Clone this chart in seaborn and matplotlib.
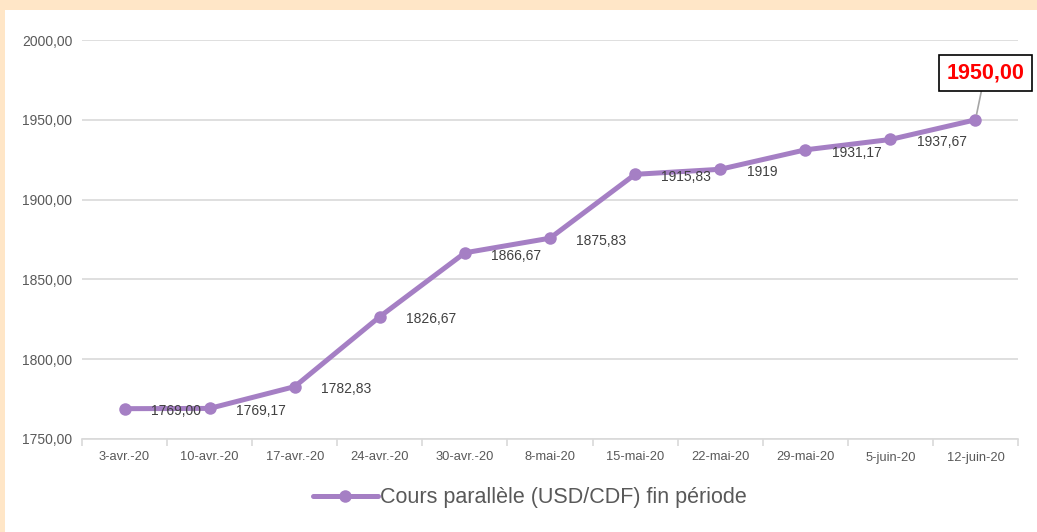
import matplotlib
matplotlib.use("Agg")
import matplotlib.pyplot as plt
import matplotlib.patches as mpatches
from matplotlib.ticker import FuncFormatter, FixedLocator
import seaborn as sns
import pandas as pd

dates = ["3-avr.-20", "10-avr.-20", "17-avr.-20", "24-avr.-20", "30-avr.-20", "8-mai-20",
         "15-mai-20", "22-mai-20", "29-mai-20", "5-juin-20", "12-juin-20"]
values = [1769.00, 1769.17, 1782.83, 1826.67, 1866.67, 1875.83, 1915.83, 1919.00,
          1931.17, 1937.67, 1950.00]
point_labels = ["1769,00", "1769,17", "1782,83", "1826,67", "1866,67", "1875,83",
                "1915,83", "1919", "1931,17", "1937,67", "1950,00"]
series_name = "Cours parallèle (USD/CDF) fin période"
yticks = [1750, 1800, 1850, 1900, 1950, 2000]

sns.set_theme(style="white")
plt.rcParams['font.family'] = ['Liberation Sans', 'DejaVu Sans']

purple = "#A57FC4"
grey_text = "#595959"

df = pd.DataFrame({"date": dates, "value": values})

fig = plt.figure(figsize=(10.37, 5.32), dpi=100)
fig.patch.set_facecolor("#FFE6C7")
fig.patches.append(mpatches.Rectangle((5/1037, 0), 1 - 5/1037, 1 - 10/532,
                                      transform=fig.transFigure, facecolor="white",
                                      edgecolor="none", zorder=-10))
ax = fig.add_axes([82/1037, 1 - 439/532, (1018 - 82)/1037, (439 - 40)/532])
ax.set_facecolor("none")

sns.lineplot(data=df, x="date", y="value", ax=ax, color=purple, linewidth=3.6,
             marker="o", markersize=9, markeredgewidth=0, label=series_name,
             sort=False, zorder=3)

for i, (v, lab) in enumerate(zip(values[:-1], point_labels[:-1])):
    ax.annotate(lab, (i, v), xytext=(19, -2), textcoords="offset points",
                ha="left", va="center", fontsize=10, color="#404040", zorder=4)

ax.annotate(point_labels[-1], (len(values) - 1, values[-1]), xytext=(7, 34),
            textcoords="offset points", ha="center", va="center", fontsize=15.5,
            fontweight="bold", color="red",
            bbox=dict(boxstyle="square,pad=0.35", facecolor="white", edgecolor="black", linewidth=1.2),
            arrowprops=dict(arrowstyle="-", color="#A6A6A6", linewidth=1.2, shrinkA=0, shrinkB=4),
            zorder=5)

ax.set_ylim(1750, 2000)
ax.set_xlim(-0.5, len(dates) - 0.5)
ax.set_yticks(yticks)
ax.yaxis.set_major_formatter(FuncFormatter(lambda v, p: f"{v:.2f}".replace(".", ",")))
ax.grid(axis="y", color="#D9D9D9", linewidth=1.2)
ax.set_axisbelow(True)
for s in ["left", "right", "top"]:
    ax.spines[s].set_visible(False)
ax.spines["bottom"].set_color("#D9D9D9")
ax.spines["bottom"].set_linewidth(1.2)
ax.tick_params(axis="y", length=0, labelsize=10, labelcolor=grey_text, pad=7)
ax.tick_params(axis="x", which="major", length=0, labelsize=9.3, labelcolor=grey_text, pad=9)
ax.xaxis.set_minor_locator(FixedLocator([i - 0.5 for i in range(len(dates) + 1)]))
ax.tick_params(axis="x", which="minor", length=5, color="#D9D9D9", width=1.2, bottom=True)
ax.set_xlabel("")
ax.set_ylabel("")

leg = ax.legend(loc="center", bbox_to_anchor=(0.511, 1 - 498/532), bbox_transform=fig.transFigure,
                frameon=False, fontsize=15.5, handlelength=3.0, handletextpad=0.1)
for t in leg.get_texts():
    t.set_color(grey_text)

fig.savefig("out.png", dpi=100, facecolor=fig.get_facecolor())
